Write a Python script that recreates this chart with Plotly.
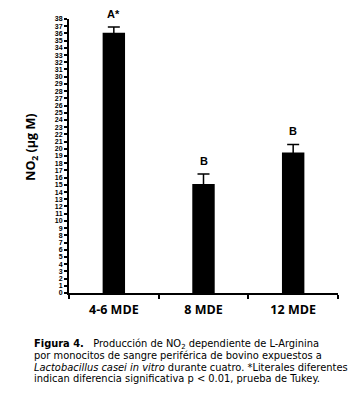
import plotly.graph_objects as go

categories = ["4-6 MDE", "8 MDE", "12 MDE"]
no2_values = [36.1, 15.1, 19.5]
no2_errors = [0.8, 1.4, 1.1]
letters = ["A*", "B", "B"]
y_ticks = list(range(0, 39))

caption_lines = [
    "<b>Figura 4.</b>   Producción de NO<sub>2</sub> dependiente de L-Arginina",
    "por monocitos de sangre periférica de bovino expuestos a",
    "<i>Lactobacillus casei in vitro</i> durante cuatro. *Literales diferentes",
    "indican diferencia significativa p &lt; 0.01, prueba de Tukey.",
]

# page has an 8px body margin; figure size compensates
OFF = 8
W, H = 357 - OFF, 405 - OFF
L, T = 69 - OFF, 15 - OFF
R = 357 - 338
B = 405 - 292.7
plot_w = W - L - R
plot_h = H - T - B
y0 = 292.7  # page y of plot bottom


def py(page_y):
    return (y0 - page_y) / plot_h


def px(page_x):
    return (page_x - 69) / plot_w


fig = go.Figure()
fig.add_trace(go.Bar(
    x=categories, y=no2_values, width=0.25,
    marker=dict(color="black", line=dict(width=0)),
    error_y=dict(type="data", array=no2_errors, visible=True,
                 color="black", thickness=1.5, width=6),
))

for c, v, e, t in zip(categories, no2_values, no2_errors, letters):
    fig.add_annotation(x=c, y=v + e, text=t, showarrow=False, yanchor="bottom",
                       yshift=5,
                       font=dict(family="Liberation Sans", size=11, color="black", weight="bold"))

fig.add_annotation(xref="paper", yref="paper", x=px(20), y=py(145),
                   text="NO<sub>2</sub> (µg M)", textangle=-90, showarrow=False,
                   font=dict(family="Open Sans", size=12.5, color="black", weight="bold"))

line_ys = [345, 356.5, 368, 379.5]
for txt, yp in zip(caption_lines, line_ys):
    fig.add_annotation(xref="paper", yref="paper", x=px(32), y=py(yp),
                       xanchor="left", yanchor="middle", text=txt, showarrow=False, align="left",
                       font=dict(family="DejaVu Sans", size=9.9, color="black"))

fig.update_layout(
    width=W, height=H, margin=dict(l=L, r=R, t=T, b=B),
    paper_bgcolor="white", plot_bgcolor="white", showlegend=False,
    font=dict(family="Liberation Sans", color="black"),
)
fig.update_xaxes(
    type="category", range=[-0.5, 2.5], showline=True, linecolor="black", linewidth=2,
    ticks="outside", tickson="boundaries", ticklen=4, tickwidth=1.5, tickcolor="black",
    tickfont=dict(family="Open Sans", size=12.5, color="black", weight="bold"),
    ticklabelstandoff=4, showgrid=False,
)
fig.update_yaxes(
    range=[0, 38], tickvals=y_ticks, ticktext=[str(v) for v in y_ticks],
    showline=True, linecolor="black", linewidth=2, ticks="outside", ticklen=3,
    tickwidth=1.5, tickcolor="black", showgrid=False, zeroline=False,
    tickfont=dict(family="Liberation Sans", size=7, color="black", weight="bold"),
)

fig.write_html("out.html")
